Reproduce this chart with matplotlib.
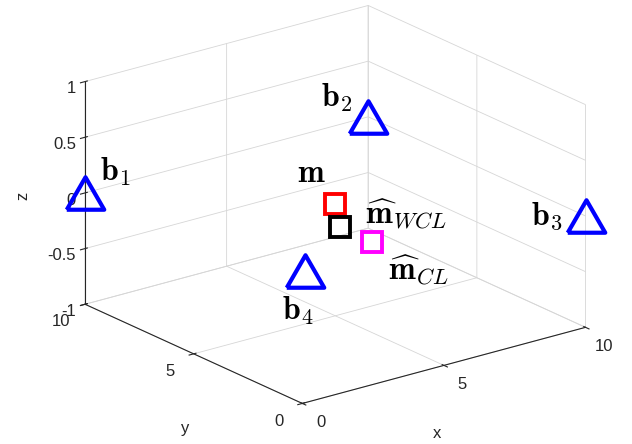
import matplotlib
matplotlib.use("Agg")
import matplotlib.pyplot as plt
from mpl_toolkits.mplot3d import proj3d

plt.rcParams['font.family'] = ['Liberation Sans', 'DejaVu Sans']
plt.rcParams['mathtext.fontset'] = 'cm'
plt.rcParams['grid.color'] = '#d6d6d6'
plt.rcParams['grid.linewidth'] = 0.6

# anchor positions and estimates
anchor_names = [r'$\mathbf{b}_1$', r'$\mathbf{b}_2$', r'$\mathbf{b}_3$', r'$\mathbf{b}_4$']
anchor_x = [0.0, 10.0, 10.0, 1.1]
anchor_y = [10.0, 10.0, 0.0, 1.3]
anchor_z = [0.0, 0.0, 0.0, 0.0]

target_names = [r'$\mathbf{m}$', r'$\widehat{\mathbf{m}}_{WCL}$', r'$\widehat{\mathbf{m}}_{CL}$']
target_x = [5.0, 4.0, 4.0]
target_y = [5.0, 3.5, 2.0]
target_z = [0.0, 0.0, 0.0]
target_colors = ['red', 'black', 'magenta']

xticks = [0, 5, 10]
yticks = [0, 5, 10]
zticks = [-1, -0.5, 0, 0.5, 1]
zticklabels = ['-1', '-0.5', '0', '0.5', '1']

# label offsets in points
anchor_offsets = [(22, 15), (-23, 14), (-28, 0), (-5, -29)]
target_offsets = [(-17, 22), (48, 9), (33, -21)]

fig = plt.figure(figsize=(6.32, 4.44), dpi=100)
ax = fig.add_axes([0.021, 0.026, 1, 1], projection='3d')
ax.set_proj_type('ortho')
ax.view_init(elev=20.5, azim=-127.5)
ax.set_box_aspect((1, 1, 0.666), zoom=1.22)

ax.set_xlim(0, 10)
ax.set_ylim(0, 10)
ax.set_zlim(-1, 1)
ax.set_xticks(xticks)
ax.set_yticks(yticks)
ax.set_zticks(zticks)
ax.set_zticklabels(zticklabels)
ax.tick_params(labelsize=12, colors='#262626')
ax.zaxis.set_tick_params(pad=-5)
ax.xaxis.set_tick_params(pad=6)
ax.yaxis.set_tick_params(pad=6)
for t in ax.zaxis.get_major_ticks():
    t.label1.set_horizontalalignment('right')
for t in ax.xaxis.get_major_ticks() + ax.yaxis.get_major_ticks():
    t.label1.set_verticalalignment('bottom')

# axis titles placed below / beside the box
fig.text(437 / 632, 1 - 433 / 444, 'x', fontsize=12, color='#262626', ha='center', va='center')
fig.text(185 / 632, 1 - 428 / 444, 'y', fontsize=12, color='#262626', ha='center', va='center')
fig.text(23 / 632, 1 - 196 / 444, 'z', fontsize=12, color='#262626', ha='center', va='center',
         rotation=90)

for axis in (ax.xaxis, ax.yaxis, ax.zaxis):
    axis.set_pane_color((1, 1, 1, 0))
    axis.pane.set_edgecolor('#d6d6d6')
    axis.line.set_color('#262626')
    axis.line.set_linewidth(0.8)

tri = [(-1, -0.866), (1, -0.866), (0, 0.866), (-1, -0.866)]
for x, y, z in zip(anchor_x, anchor_y, anchor_z):
    ax.plot([x], [y], [z], linestyle='none', marker=tri, markersize=27,
            markerfacecolor='none', markeredgecolor='blue', markeredgewidth=3,
            clip_on=False)

for x, y, z, c in zip(target_x, target_y, target_z, target_colors):
    ax.plot([x], [y], [z], linestyle='none', marker='s', markersize=15,
            markerfacecolor='none', markeredgecolor=c, markeredgewidth=2.8,
            clip_on=False)

fig.canvas.draw()
proj = ax.get_proj()


def put_label(x, y, z, text, offset):
    px, py, _ = proj3d.proj_transform(x, y, z, proj)
    ax.annotate(text, xy=(px, py), xytext=offset, textcoords='offset points',
                ha='center', va='center', fontsize=23, annotation_clip=False)


for x, y, z, s, off in zip(anchor_x, anchor_y, anchor_z, anchor_names, anchor_offsets):
    put_label(x, y, z, s, off)
for x, y, z, s, off in zip(target_x, target_y, target_z, target_names, target_offsets):
    put_label(x, y, z, s, off)

plt.savefig('out.png', dpi=100)
